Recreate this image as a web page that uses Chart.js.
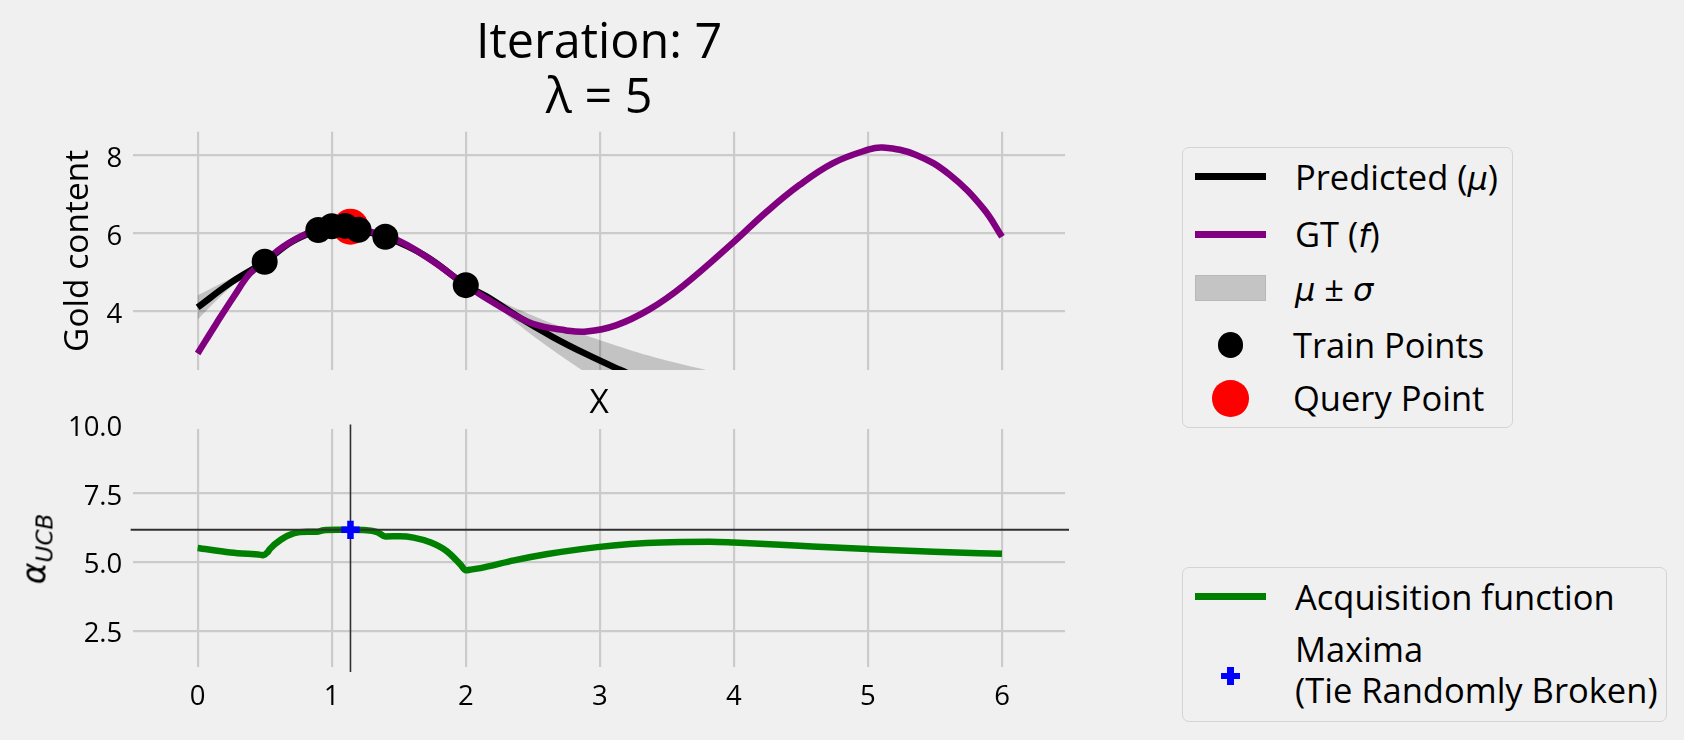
<!DOCTYPE html>
<html><head><meta charset="utf-8">
<script src="https://cdn.jsdelivr.net/npm/chart.js@4.4.1/dist/chart.umd.min.js"></script>
<style>
html,body{margin:0;padding:0;background:#f0f0f0;}
body{width:1684px;height:740px;position:relative;overflow:hidden;font-family:'Open Sans',sans-serif;color:#000;}
canvas{position:absolute;left:0;}
#cA{top:0;}
#cB{top:400px;}
.lg{position:absolute;border:1.5px solid #d4d4d4;border-radius:7px;box-sizing:border-box;}
.h{position:absolute;}
.tx{position:absolute;font-size:34.5px;line-height:40px;white-space:nowrap;}
.m{font-family:'DejaVu Sans',sans-serif;font-style:italic;font-size:32px;}
#alab{position:absolute;left:37px;top:549px;transform:translate(-50%,-50%) rotate(-90deg);font-family:'DejaVu Sans',sans-serif;font-style:italic;font-size:33px;white-space:nowrap;line-height:1;}
#alab sub{font-size:70%;vertical-align:-0.3em;}
</style></head><body>
<canvas id="cA" width="1100" height="424"></canvas>
<canvas id="cB" width="1100" height="340"></canvas>
<div id="alab">α<sub>UCB</sub></div>

<div class="lg" style="left:1181.7px;top:146.7px;width:331.6px;height:281.6px;"></div>
<div class="h" style="left:1195px;top:173.2px;width:71px;height:7px;background:#000;"></div>
<div class="tx" style="left:1295px;top:156.7px;">Predicted (<span class="m">μ</span>)</div>
<div class="h" style="left:1195px;top:230.5px;width:71px;height:7px;background:#800080;"></div>
<div class="tx" style="left:1295px;top:214px;">GT (<span class="m">f</span>)</div>
<div class="h" style="left:1195px;top:275px;width:71px;height:25.7px;background:#c4c4c4;box-sizing:border-box;border:1px solid #b8b8b8;"></div>
<div class="tx" style="left:1295px;top:267.7px;"><span class="m">μ</span> ± <span class="m">σ</span></div>
<div class="h" style="left:1217.6px;top:332.1px;width:25.7px;height:25.7px;border-radius:50%;background:#000;"></div>
<div class="tx" style="left:1293px;top:325px;">Train Points</div>
<div class="h" style="left:1212.2px;top:380px;width:36.7px;height:36.7px;border-radius:50%;background:#ff0000;"></div>
<div class="tx" style="left:1293px;top:378.3px;">Query Point</div>

<div class="lg" style="left:1181.7px;top:566.7px;width:485.6px;height:155px;"></div>
<div class="h" style="left:1195px;top:593.2px;width:71px;height:7px;background:#008000;"></div>
<div class="tx" style="left:1295px;top:576.7px;">Acquisition function</div>
<div class="h" style="left:1221.3px;top:672.8px;width:18.5px;height:6.5px;background:#0000ff;"></div>
<div class="h" style="left:1227.3px;top:666.8px;width:6.5px;height:18.5px;background:#0000ff;"></div>
<div class="tx" style="left:1295px;top:627.5px;line-height:41.7px;">Maxima<br>(Tie Randomly Broken)</div>

<script>
// ---------- data ----------
const TITLE_LINES = ['Iteration: 7', 'λ = 5'];
const X_TICKS = [0, 1, 2, 3, 4, 5, 6];
const GOLD_TICKS = [4, 6, 8];
const ACQ_TICKS = [2.5, 5.0, 7.5, 10.0];
const X_RANGE = [-0.48, 6.47];
const GOLD_RANGE = [2.495, 8.605];
const ACQ_RANGE = [1.17, 9.84];
const LINE_X_SPAN = [-0.5, 6.5];
const LINE_Y_SPAN = [1.0, 10.0];

const GT_X = [0, 0.14, 0.27, 0.39, 0.5, 0.64, 0.82, 1.0, 1.14, 1.3, 1.51, 1.76, 2.0, 2.26, 2.5, 2.75, 2.9, 3.12, 3.37, 3.62, 4.0, 4.24, 4.49, 4.74, 4.99, 5.11, 5.36, 5.61, 5.86, 6.0];
const GT_Y = [2.92, 3.69, 4.38, 4.97, 5.27, 5.66, 6.0, 6.18, 6.17, 6.03, 5.79, 5.27, 4.67, 4.11, 3.68, 3.51, 3.48, 3.64, 4.05, 4.65, 5.78, 6.54, 7.24, 7.80, 8.13, 8.20, 8.01, 7.50, 6.64, 5.91];

const MU_X = [0, 0.25, 0.5, 0.7, 0.9, 1.0, 1.1, 1.2, 1.4, 1.7, 2.0, 2.16, 2.4, 2.65, 2.9, 3.15, 3.4, 3.8];
const MU_Y = [4.10, 4.74, 5.27, 5.78, 6.085, 6.18, 6.19, 6.09, 5.91, 5.42, 4.67, 4.37, 3.84, 3.34, 2.90, 2.50, 2.12, 1.55];
const SIGMA = [0.31, 0.11, 0.0, 0.02, 0.0, 0.0, 0.0, 0.0, 0.0, 0.02, 0.0, 0.04, 0.20, 0.34, 0.48, 0.59, 0.71, 0.94];

const TRAIN_X = [0.5, 0.9, 1.0, 1.1, 1.2, 1.4, 2.0];
const TRAIN_Y = [5.27, 6.085, 6.18, 6.19, 6.09, 5.91, 4.67];
const QUERY_X = [1.14];
const QUERY_Y = [6.17];

const ACQ_X = [0, 0.244, 0.47, 0.49, 0.52, 0.54, 0.62, 0.72, 0.82, 0.89, 0.94, 1.04, 1.14, 1.26, 1.34, 1.40, 1.51, 1.61, 1.74, 1.86, 1.96, 2.0, 2.03, 2.11, 2.36, 2.61, 2.86, 3.10, 3.35, 3.6, 3.82, 4.0, 4.49, 5.0, 5.49, 6.0];
const ACQ_Y = [5.51, 5.35, 5.26, 5.25, 5.35, 5.48, 5.81, 6.05, 6.10, 6.10, 6.16, 6.17, 6.17, 6.16, 6.09, 5.93, 5.94, 5.89, 5.71, 5.39, 4.91, 4.70, 4.72, 4.78, 5.06, 5.29, 5.47, 5.60, 5.69, 5.73, 5.74, 5.71, 5.59, 5.47, 5.37, 5.30];

const MAX_X = [1.14];
const MAX_Y = [6.17];

// ---------- helpers ----------
const pts = (xs, ys) => xs.map((x, i) => ({x: x, y: ys[i]}));
const FONT = '"Open Sans", sans-serif';
const GRID = '#cbcbcb';
const GRID_W = 2.2;
Chart.defaults.font.family = FONT;
Chart.defaults.color = '#000';

const base = {
  responsive: false, animation: false, devicePixelRatio: 1, events: [],
};

const upper = MU_Y.map((m, i) => m + SIGMA[i]);
const lower = MU_Y.map((m, i) => m - SIGMA[i]);
const SMOOTH = {tension: 0.4, cubicInterpolationMode: 'default'};

new Chart(document.getElementById('cA'), {
  type: 'line',
  data: {datasets: [
    Object.assign({data: pts(MU_X, upper), fill: 1, backgroundColor: 'rgba(0,0,0,0.19)', borderWidth: 0, pointRadius: 0, order: 6}, SMOOTH),
    Object.assign({data: pts(MU_X, lower), fill: false, borderWidth: 0, pointRadius: 0, order: 7}, SMOOTH),
    Object.assign({data: pts(MU_X, MU_Y), borderColor: '#000', borderWidth: 6.5, pointRadius: 0, fill: false, order: 5}, SMOOTH),
    Object.assign({data: pts(GT_X, GT_Y), borderColor: '#800080', borderWidth: 6.5, pointRadius: 0, fill: false, order: 4}, SMOOTH),
    {data: pts(QUERY_X, QUERY_Y), showLine: false, pointRadius: 18, pointBackgroundColor: '#ff0000', pointBorderWidth: 0, order: 3},
    {data: pts(TRAIN_X, TRAIN_Y), showLine: false, pointRadius: 13, pointBackgroundColor: '#000', pointBorderWidth: 0, order: 2}
  ]},
  options: Object.assign({}, base, {
    layout: {padding: {left: 0, right: 35, top: 0, bottom: 0}},
    plugins: {
      legend: {display: false}, tooltip: {enabled: false},
      title: {display: true, fullSize: false, text: TITLE_LINES, color: '#000',
        font: {size: 48.5, family: FONT, weight: 'normal', lineHeight: 1.14},
        padding: {top: 16.5, bottom: 4.6}}
    },
    scales: {
      x: {type: 'linear', min: X_RANGE[0], max: X_RANGE[1],
        afterBuildTicks: s => { s.ticks = X_TICKS.map(v => ({value: v})); },
        afterFit: s => { s.height = 54; },
        ticks: {display: false},
        grid: {color: GRID, lineWidth: GRID_W, drawTicks: false},
        border: {display: false},
        title: {display: true, text: 'X', color: '#000', font: {size: 33.5}, padding: 0}
      },
      y: {type: 'linear', min: GOLD_RANGE[0], max: GOLD_RANGE[1],
        afterBuildTicks: s => { s.ticks = GOLD_TICKS.map(v => ({value: v})); },
        afterFit: s => { s.width = 133.3; },
        ticks: {font: {size: 27.5}, padding: 11, labelOffset: 3.5, color: '#000', autoSkip: false, callback: v => String(v)},
        grid: {color: GRID, lineWidth: GRID_W, drawTicks: false},
        border: {display: false},
        title: {display: true, text: 'Gold content', color: '#000', font: {size: 33.5}, padding: {top: 58.4, bottom: 0}}
      }
    }
  })
});

new Chart(document.getElementById('cB'), {
  type: 'line',
  data: {datasets: [
    {data: pts(LINE_X_SPAN, [MAX_Y[0], MAX_Y[0]]), borderColor: '#303030', borderWidth: 2, pointRadius: 0, fill: false, clip: 8, order: 2},
    {data: pts([MAX_X[0], MAX_X[0]], LINE_Y_SPAN), borderColor: '#303030', borderWidth: 1.6, pointRadius: 0, fill: false, clip: 8, order: 2},
    {data: pts(ACQ_X, ACQ_Y), borderColor: '#008000', borderWidth: 6.5, pointRadius: 0, fill: false, cubicInterpolationMode: 'monotone', order: 3},
    {data: pts(MAX_X, MAX_Y), showLine: false, pointStyle: 'cross', pointRadius: 9.2, pointBorderColor: '#0000ff', pointBorderWidth: 6.5, order: 1}
  ]},
  options: Object.assign({}, base, {
    layout: {padding: {left: 0, right: 35, top: 29, bottom: 0}},
    plugins: {legend: {display: false}, tooltip: {enabled: false}},
    scales: {
      x: {type: 'linear', min: X_RANGE[0], max: X_RANGE[1],
        afterBuildTicks: s => { s.ticks = X_TICKS.map(v => ({value: v})); },
        afterFit: s => { s.height = 72.7; },
        ticks: {font: {size: 27.5}, padding: 13.5, color: '#000', autoSkip: false, maxRotation: 0, callback: v => String(v)},
        grid: {color: GRID, lineWidth: GRID_W, drawTicks: false},
        border: {display: false}
      },
      y: {type: 'linear', min: ACQ_RANGE[0], max: ACQ_RANGE[1],
        afterBuildTicks: s => { s.ticks = ACQ_TICKS.map(v => ({value: v})); },
        afterFit: s => { s.width = 133.3; },
        ticks: {font: {size: 27.5}, padding: 11, labelOffset: 3.5, color: '#000', autoSkip: false, callback: v => Number(v).toFixed(1)},
        grid: {color: c => (c.tick && c.tick.value > ACQ_RANGE[1]) ? 'rgba(0,0,0,0)' : GRID, lineWidth: GRID_W, drawTicks: false},
        border: {display: false}
      }
    }
  })
});
</script>
</body></html>
